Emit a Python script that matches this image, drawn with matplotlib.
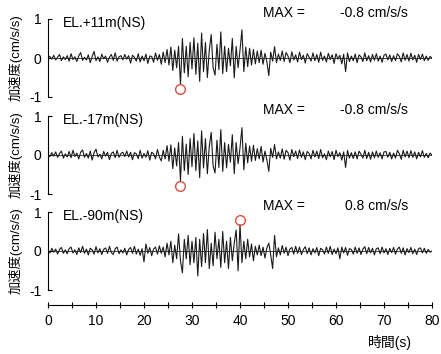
import matplotlib
matplotlib.use("Agg")
import matplotlib.pyplot as plt
import numpy as np

plt.rcParams['font.family'] = ['Liberation Sans', 'Noto Sans CJK JP']
plt.rcParams['axes.unicode_minus'] = False

# sampling step of the hand-read traces (s); values are in 0.01 cm/s/s
dt = 0.4

acc_p11 = [
    0, 4, -3, 7, -5, 2, 9, -7, 3, -4,
    6, -8, 11, -4, 3, -9, 5, 14, -6, 2,
    -5, 8, -12, 4, 17, -7, 3, -9, 10, -2,
    5, -11, 2, 9, -6, 13, -8, 3, 6, -5,
    9, -3, 6, -13, 7, 2, -8, 11, -10, 5,
    -7, 10, -14, 5, 4, -11, 13, -6, 9, -16,
    15, -12, 22, -18, 28, -32, 20, -25, 30, -68,
    50, -38, 30, -48, 40, -28, 52, -42, 38, -60,
    64, -35, 40, -50, 20, 60, -25, -44, 35, -30,
    67, -40, 30, -35, 25, -20, 50, -51, 30, -25,
    20, 72, -35, 28, -22, 25, -18, 22, -15, 18,
    -12, 20, -16, 12, -10, -45, 15, -8, 29, -12,
    10, -6, 18, -9, 14, 5, -12, 16, -5, 8,
    -10, 15, -4, 7, -13, 11, 2, -8, 13, -7,
    9, -11, 15, -6, 5, -10, 12, -4, 8, -14,
    11, -3, 7, -15, 10, -35, 13, -9, 5, -7,
    10, -12, 8, 3, -9, 13, -7, 6, -10, 9,
    -6, 11, -8, 5, -11, 7, 10, -5, 8, -9,
    6, -7, 11, 4, -10, 13, -6, 9, -8, 12,
    -5, 7, -11, 9, -4, 10, -7, 5, -6, 4,
    0,
]

acc_m17 = [
    2, -4, 6, -3, 8, -6, 4, 10, -8, 3,
    -5, 9, -7, 12, -4, 5, -10, 7, 13, -6,
    4, -8, 10, -13, 6, 15, -5, 2, -10, 9,
    -3, 7, -12, 4, 8, -7, 12, -6, 4, 7,
    -4, 10, -5, 7, -12, 6, 3, -9, 12, -8,
    4, -6, 11, -13, 7, 3, -10, 14, -5, -15,
    12, -10, 24, -16, 26, -35, 18, -28, 32, -66,
    48, -40, 28, -50, 42, -30, 55, -40, 36, -58,
    62, -33, 42, -48, 22, 58, -28, -46, 38, -32,
    65, -42, 32, -33, 27, -18, 52, -48, 32, -22,
    18, 70, -38, 30, -20, 23, -16, 25, -14, 16,
    -10, 22, -18, 10, -12, -42, 17, -6, 27, -10,
    8, -8, 16, -11, 12, 6, -13, 14, -4, 10,
    -9, 13, -6, 8, -12, 9, 4, -10, 12, -5,
    10, -9, 14, -7, 3, -12, 10, -5, 9, -12,
    12, -4, 6, -13, 8, -32, 12, -8, 6, -9,
    8, -10, 10, 2, -8, 12, -9, 7, -11, 8,
    -7, 10, -6, 6, -10, 8, 9, -6, 7, -10,
    5, -8, 12, 3, -11, 12, -5, 10, -7, 11,
    -6, 8, -10, 7, -5, 11, -6, 4, -7, 5,
    0,
]

acc_m90 = [
    0, -5, 7, -3, 5, -8, 4, 9, -6, 3,
    -7, 6, 10, -5, 3, -9, 8, -4, 12, -6,
    5, -10, 7, 3, -8, 11, -5, 6, -9, 4,
    8, -6, 12, -4, -9, 6, 10, -7, 3, -5,
    7, -10, 4, 9, -6, 12, -8, 5, -11, 6,
    -28, 18, -6, 9, -12, 5, 10, -8, 13, -6,
    10, -15, 20, -10, 25, -30, 15, -20, 44, -25,
    -56, 30, -20, 40, -35, 25, -30, 35, -64, 30,
    -40, 45, -30, 55, -45, 20, -38, 48, -20, 30,
    -42, 50, -30, 25, -45, 35, -25, 20, 54, -51,
    68, -30, 25, -20, 30, -15, 18, -25, 12, -10,
    15, -12, 10, -18, 8, 20, -10, -45, 40, -15,
    8, -10, 14, -6, 10, -12, 5, 9, -8, 12,
    -6, 10, -9, 4, 11, -7, 8, -10, 6, -5,
    9, -12, 7, 3, -8, 10, -6, 12, -9, 5,
    -7, 8, -20, 10, -5, 9, -11, 6, 4, -8,
    10, -6, 8, -9, 5, 11, -7, 9, -5, 7,
    -10, 6, 8, -7, 10, -5, 6, -9, 7, -4,
    9, -8, 5, 10, -6, 8, -10, 6, -4, 9,
    -7, 5, -9, 6, 8, -5, 7, -6, 4, -3,
    0,
]

stations = ["EL.+11m(NS)", "EL.-17m(NS)", "EL.-90m(NS)"]
traces = [acc_p11, acc_m17, acc_m90]
peak_time = [27.6, 27.6, 40.0]
peak_value = [-0.8, -0.8, 0.8]

fig = plt.figure(figsize=(4.41, 3.54), dpi=100)

left, width = 48 / 441, 384 / 441
bottoms = [1 - 97 / 354, 1 - 194 / 354, 1 - 290 / 354]
height = 78 / 354

for b, name, acc, pt, pv in zip(bottoms, stations, traces, peak_time, peak_value):
    ax = fig.add_axes([left, b, width, height])
    acc = np.array(acc) / 100.0
    t = np.arange(len(acc)) * dt
    ax.axhline(0, color="black", lw=0.5)
    ax.plot(t, acc, color="#1a1a1a", lw=0.8)
    ax.plot([pt], [pv], "o", mfc="none", mec="#d8503f", ms=7, mew=1.0, clip_on=False)
    ax.set_xlim(0, 80)
    ax.set_ylim(-1, 1)
    for s in ["top", "right", "bottom"]:
        ax.spines[s].set_visible(False)
    ax.spines["left"].set_linewidth(0.8)
    ax.set_xticks([])
    ax.set_yticks([-1, 0, 1])
    ax.set_yticklabels(["-1", "0", "1"])
    ax.tick_params(axis="y", direction="in", length=3, width=0.8, pad=4.5, labelsize=10)
    ax.patch.set_visible(False)

    ax.text(3.1, 0.9, name, fontsize=10, va="center")
    ax.text(44.8, 1.15, "MAX =", fontsize=10, va="center", clip_on=False)
    ax.text(75, 1.15, f"{pv} cm/s/s", fontsize=10, va="center", ha="right", clip_on=False)
    ax.text(-0.085, 0.5, "加速度(cm/s/s)", transform=ax.transAxes, rotation=90,
            ha="center", va="center", fontsize=9.5)

# shared time axis
axb = fig.add_axes([left, 1 - 305 / 354, width, 0.0001])
for s in ["top", "right", "left"]:
    axb.spines[s].set_visible(False)
axb.spines["bottom"].set_linewidth(0.8)
axb.set_yticks([])
axb.set_xlim(0, 80)
axb.set_xticks(np.arange(0, 81, 10))
axb.set_xticks(np.arange(5, 80, 10), minor=True)
axb.tick_params(axis="x", which="both", direction="inout", length=5, width=0.8, pad=4, labelsize=10)

fig.text(389.5 / 441, 1 - 342 / 354, "時間(s)", ha="center", va="center", fontsize=10)

fig.savefig("out.png", dpi=100)
